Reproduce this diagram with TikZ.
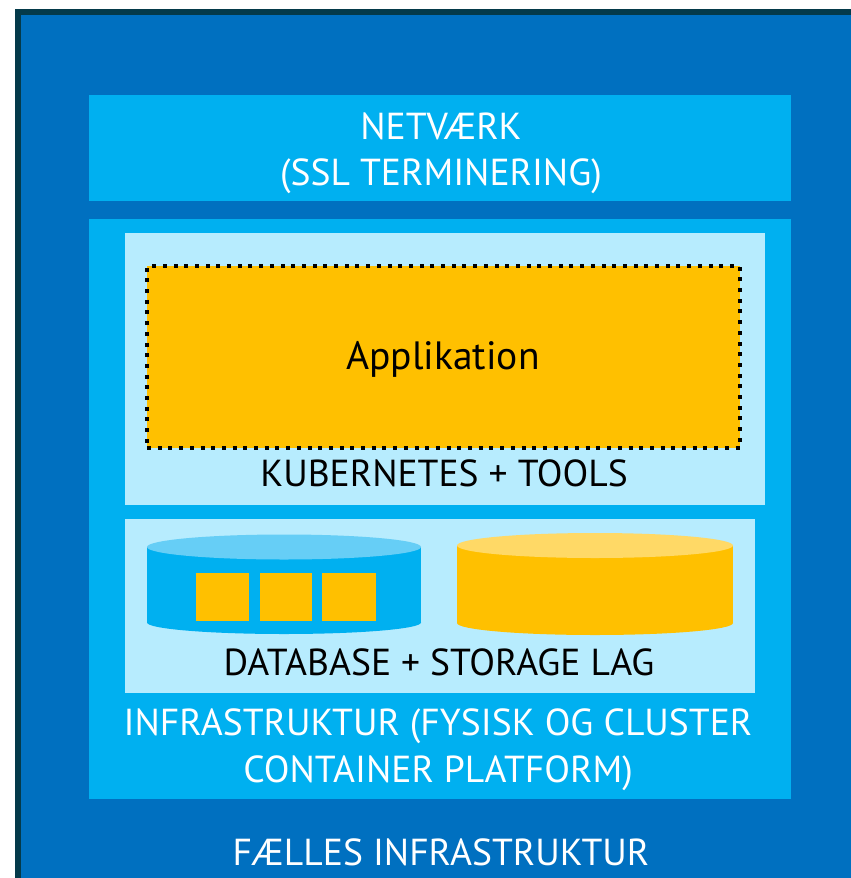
\documentclass[tikz,border=0pt]{standalone}
\usepackage{fontspec}
\setmainfont{PT Sans}
\usetikzlibrary{positioning}

\definecolor{rimdark}{HTML}{043A4A}
\definecolor{outerblue}{HTML}{0070C0}
\definecolor{midblue}{HTML}{00B0F0}
\definecolor{paleblue}{HTML}{B7ECFE}
\definecolor{topblue}{HTML}{66CEF6}
\definecolor{appyellow}{HTML}{FFC000}
\definecolor{topyellow}{HTML}{FFD966}

\begin{document}
\begin{tikzpicture}
    [
        x=1pt, y=-1pt, node distance=11pt, inner sep=0pt, outer sep=0pt,
        layer_box/.style={rectangle, anchor=north west, draw=none},
        white_text/.style={anchor=base, text=white, font=\fontsize{37.6}{46}\selectfont},
        black_text/.style={anchor=base, text=black, font=\fontsize{37.6}{46}\selectfont},
        app_box/.style={rectangle, fill=appyellow, draw=black, line width=4pt, dash pattern=on 4pt off 6.7pt, minimum width=593pt, minimum height=182pt},
        data_square/.style={rectangle, fill=appyellow, minimum width=53pt, minimum height=48pt},
    ]
        \useasboundingbox (0,0) rectangle (851,878);
        \clip (0,0) rectangle (851,878);
        \fill[rimdark] (15,9) rectangle (870,890);
        \fill[outerblue] (21,15) rectangle (870,890);
        % layers
        \node[layer_box, fill=midblue, minimum width=702pt, minimum height=106pt] (net) at (89,95) {};
        \node[layer_box, fill=midblue, minimum width=702pt, minimum height=580pt] (infra) at (89,219) {};
        \node[layer_box, fill=paleblue, minimum width=640pt, minimum height=272pt] (kube) at (125,233) {};
        \node[layer_box, fill=paleblue, minimum width=630pt, minimum height=174pt] (db) at (125,519) {};
        \node[app_box] (app) at (443.5,357) {};
        % database cylinder
        \fill[midblue] (147,547) rectangle (421,622.5);
        \fill[midblue] (284,622.5) ellipse [x radius=137pt, y radius=11.5pt];
        \fill[topblue] (284,547) ellipse [x radius=137pt, y radius=12.5pt];
        \node[data_square] (sq1) at (222,597) {};
        \node[data_square, minimum width=52pt] (sq2) [right = of sq1] {};
        \node[data_square, minimum width=54pt] (sq3) [right = 10pt of sq2] {};
        % storage cylinder
        \fill[appyellow] (457,545.5) rectangle (733,623);
        \fill[appyellow] (595,623) ellipse [x radius=138pt, y radius=12pt];
        \fill[topyellow] (595,545.5) ellipse [x radius=138pt, y radius=12.5pt];
        % labels
        \node[white_text] (netlabel) at (441,139) {NETVÆRK};
        \node[white_text] (ssllabel) at (441,185) {(SSL TERMINERING)};
        \node[black_text, font=\fontsize{39.5}{46}\selectfont] (applabel) at (443,369) {Applikation};
        \node[black_text] (kubelabel) at (444,486) {KUBERNETES + TOOLS};
        \node[black_text] (dblabel) at (439,675) {DATABASE + STORAGE LAG};
        \node[white_text] (infralabel) at (438,735) {INFRASTRUKTUR (FYSISK OG CLUSTER};
        \node[white_text] (platformlabel) at (438,782) {CONTAINER PLATFORM)};
        \node[white_text] (sharedlabel) at (441,865) {FÆLLES INFRASTRUKTUR};
    \end{tikzpicture}
\end{document}
